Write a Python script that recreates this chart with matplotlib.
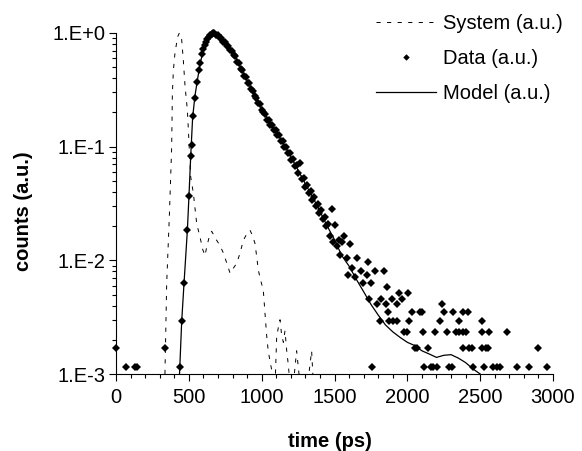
import matplotlib
matplotlib.use("Agg")
import matplotlib.pyplot as plt
from matplotlib.ticker import FixedLocator, MultipleLocator, LogLocator, NullFormatter

plt.rcParams['font.family'] = ['Liberation Sans', 'DejaVu Sans']
plt.rcParams['lines.scale_dashes'] = False

# ---------------- data ----------------
system_t = [336, 348, 366, 382, 387, 394, 404, 412, 424, 435, 445, 451, 462, 474, 490, 497, 505, 513,
            531, 554, 577, 595, 611, 622, 634, 645, 657, 673, 691, 714, 737, 760, 783, 805, 828, 851,
            874, 897, 920, 937, 954, 965, 977, 994, 1011, 1023, 1034, 1045, 1057, 1068, 1080, 1092,
            1103, 1115, 1126, 1137, 1149, 1160, 1172, 1183, 1195, 1217, 1240, 1260, 1290, 1320, 1343, 1355]
system_y = [0.0010, 0.0063, 0.024, 0.097, 0.295, 0.47, 0.65, 0.76, 0.93, 1.0, 0.95, 0.87, 0.58, 0.34,
            0.21, 0.14, 0.085, 0.054, 0.039, 0.021, 0.016, 0.0125, 0.011, 0.013, 0.015, 0.017, 0.018,
            0.0165, 0.015, 0.0135, 0.0116, 0.0095, 0.0077, 0.0085, 0.0094, 0.0115, 0.015, 0.017, 0.0184,
            0.0165, 0.0141, 0.011, 0.0082, 0.0066, 0.0055, 0.0034, 0.0022, 0.0016, 0.0013, 0.0011, 0.0009,
            0.0008, 0.0021, 0.0026, 0.0030, 0.0022, 0.0019, 0.0024, 0.0016, 0.0012, 0.0008, 0.0008,
            0.0016, 0.0009, 0.0008, 0.0009, 0.0016, 0.0008]

model_t = [436, 451, 467, 490, 501, 513, 526, 542, 561, 577, 600, 625, 645, 665, 691, 737, 783, 817,
           850, 900, 950, 1000, 1050, 1100, 1150, 1200, 1250, 1300, 1350, 1400, 1450, 1500, 1550, 1600,
           1650, 1700, 1750, 1800, 1850, 1900, 1950, 2000, 2050, 2100, 2150, 2200, 2250, 2300, 2350,
           2400, 2450, 2500, 2530]
model_y = [0.001, 0.0029, 0.0063, 0.0184, 0.037, 0.083, 0.18, 0.28, 0.40, 0.53, 0.72, 0.86, 0.95, 1.0,
           0.97, 0.85, 0.73, 0.63, 0.51, 0.38, 0.29, 0.215, 0.166, 0.135, 0.106, 0.082, 0.062, 0.047,
           0.036, 0.027, 0.020, 0.0152, 0.0110, 0.0089, 0.0068, 0.0053, 0.0041, 0.0033, 0.0027, 0.00235,
           0.0021, 0.0019, 0.00178, 0.0016, 0.0015, 0.0014, 0.00146, 0.00148, 0.00138, 0.00126, 0.00111,
           0.0010, 0.00092]

data_t = [0, 69, 130, 144, 337,
          439, 451, 467, 490, 501, 513, 520, 526, 542, 557, 569, 577, 588, 598, 608, 618, 628, 638, 648,
          657, 666, 676, 688,
          700, 712, 724, 736, 748, 760, 772, 784, 796, 808, 820, 832, 844, 856, 868, 880, 892, 904, 916,
          928, 940, 952, 964, 976, 988, 1000, 1012, 1024, 1036, 1048, 1060, 1072, 1084, 1096, 1108, 1120,
          1132, 1144, 1156, 1168, 1180, 1192, 1204, 1216, 1228, 1240, 1252, 1264, 1276, 1288, 1300, 1312,
          1324, 1336, 1348, 1360, 1372, 1384, 1396, 1408, 1420, 1432, 1444, 1456, 1468, 1480, 1492, 1504,
          1516, 1528, 1540, 1552, 1564,
          1588, 1595, 1606, 1618, 1641, 1657, 1680, 1694, 1721, 1732, 1749, 1778, 1840, 1862,
          1945, 2007, 1739, 1822, 1893, 1963, 1793, 1854, 1929, 2236,
          1869, 2030, 2087, 2099, 2250, 2316, 2384, 2419,
          1810, 1873, 1904, 1929, 2014, 2222, 2357, 2513,
          1975, 1998, 2105, 2190, 2270, 2334, 2357, 2380, 2403, 2510, 2563, 2686,
          2053, 2068, 2144, 2380, 2426, 2442, 2515, 2540, 2552, 2897,
          1760, 2114, 2160, 2178, 2204, 2285, 2308, 2453, 2528, 2586, 2613, 2636, 2751, 2837, 2957]
data_y = [0.0017, 0.00116, 0.00116, 0.00116, 0.0017,
          0.00116, 0.0029, 0.0063, 0.0184, 0.037, 0.083, 0.104, 0.186, 0.266, 0.37, 0.47, 0.54, 0.66,
          0.73, 0.79, 0.84, 0.89, 0.93, 0.96, 0.98, 1.0, 0.99, 0.97,
          0.96, 0.90, 0.90, 0.83, 0.84, 0.77, 0.77, 0.71, 0.70, 0.64, 0.63, 0.56, 0.55, 0.48, 0.47, 0.42,
          0.41, 0.36, 0.36, 0.32, 0.31, 0.28, 0.27, 0.24, 0.235, 0.21, 0.20, 0.195, 0.17, 0.172, 0.155,
          0.156, 0.14, 0.14, 0.126, 0.127, 0.112, 0.113, 0.099, 0.10, 0.088, 0.088, 0.077, 0.078, 0.067,
          0.069, 0.059, 0.072, 0.052, 0.053, 0.044, 0.046, 0.039, 0.041, 0.034, 0.036, 0.030, 0.031,
          0.026, 0.028, 0.023, 0.024, 0.020, 0.021, 0.0165, 0.0285, 0.0146, 0.0205, 0.0135, 0.0150,
          0.0112, 0.0146, 0.0163,
          0.0104, 0.0074, 0.0139, 0.0086, 0.0072, 0.0104, 0.0081, 0.0063, 0.0074, 0.0097, 0.0063, 0.0081,
          0.0081, 0.0058,
          0.0052, 0.0052, 0.0046, 0.0046, 0.0046, 0.0046, 0.0041, 0.0041, 0.0041, 0.0041,
          0.0035, 0.0035, 0.0035, 0.0035, 0.0035, 0.0035, 0.0035, 0.0035,
          0.0029, 0.0029, 0.0029, 0.0029, 0.0029, 0.0029, 0.0029, 0.0029,
          0.00233, 0.00233, 0.00233, 0.00233, 0.00233, 0.00233, 0.00233, 0.00233, 0.00233, 0.00233,
          0.00233, 0.00233,
          0.0017, 0.0017, 0.0017, 0.0017, 0.0017, 0.0017, 0.0017, 0.0017, 0.0017, 0.0017,
          0.00116, 0.00116, 0.00116, 0.00116, 0.00116, 0.00116, 0.00116, 0.00116, 0.00116, 0.00116,
          0.00116, 0.00116, 0.00116, 0.00116, 0.00116]

x_ticks = [0, 500, 1000, 1500, 2000, 2500, 3000]
y_ticks = [1e-3, 1e-2, 1e-1, 1e0]
y_tick_labels = ["1.E-3", "1.E-2", "1.E-1", "1.E+0"]

# ---------------- figure ----------------
fig = plt.figure(figsize=(5.82, 4.51), dpi=100)
ax = fig.add_axes([116/582, 1-374/451, 437/582, 341/451])

ax.plot(system_t, system_y, color='black', lw=0.7, dashes=(3.0, 4.6), label='System (a.u.)')
ax.plot(data_t, data_y, linestyle='none', marker='D', markersize=4.4, color='black',
        markeredgewidth=0, clip_on=False, label='Data (a.u.)')
ax.plot(model_t, model_y, color='black', lw=0.9, label='Model (a.u.)')

ax.set_yscale('log')
ax.set_xlim(0, 3000)
ax.set_ylim(1e-3, 1e0)

ax.set_xticks(x_ticks)
ax.xaxis.set_minor_locator(MultipleLocator(100))
ax.set_yticks(y_ticks)
ax.set_yticklabels(y_tick_labels)
ax.yaxis.set_minor_locator(LogLocator(base=10, subs=range(2, 10)))
ax.yaxis.set_minor_formatter(NullFormatter())

for s in ['top', 'right']:
    ax.spines[s].set_visible(False)
for s in ['left', 'bottom']:
    ax.spines[s].set_linewidth(0.8)

ax.tick_params(axis='both', which='major', direction='out', length=5, width=0.8,
               labelsize=14.5, color='black')
ax.tick_params(axis='both', which='minor', direction='out', length=3, width=0.8, color='black')
ax.tick_params(axis='x', which='major', pad=5)
ax.tick_params(axis='y', which='major', pad=2.5)

ax.set_xlabel('time (ps)', fontsize=14.5, fontweight='bold')
ax.set_ylabel('counts (a.u.)', fontsize=14.5, fontweight='bold')
ax.xaxis.set_label_coords(0.49, -0.17)
ax.yaxis.set_label_coords(-0.19, 0.478)

leg = fig.legend(loc='upper left', bbox_to_anchor=(366/582, 1 - 4/451), frameon=False,
                 fontsize=14.5, handlelength=3.0, handletextpad=0.33, borderpad=0,
                 labelspacing=0.8, markerscale=0.75)

fig.savefig('out.png', dpi=100)
